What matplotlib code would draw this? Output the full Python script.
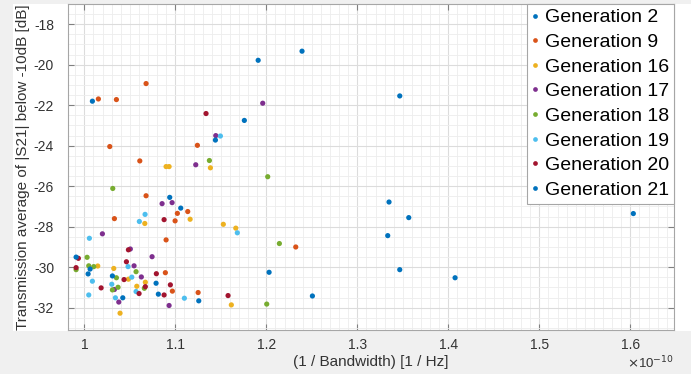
import matplotlib
matplotlib.use('Agg')
import matplotlib.pyplot as plt
from matplotlib.patches import Rectangle
from matplotlib.ticker import MultipleLocator, FuncFormatter
from matplotlib.lines import Line2D

plt.rcParams['font.family'] = ['Liberation Sans', 'DejaVu Sans']
plt.rcParams['axes.unicode_minus'] = False

# --- datos (x en unidades de 1e-10 1/Hz, y en dB) ---
labels = ['Generation 2', 'Generation 9', 'Generation 16', 'Generation 17',
          'Generation 18', 'Generation 19', 'Generation 20', 'Generation 21']
colores = ['#0072BD', '#D95319', '#EDB120', '#7E2F8E',
           '#77AC30', '#4DBEEE', '#A2142F', '#0072BD']

gen2_x = [1.191, 1.2392, 1.3466, 1.1758, 1.3348, 1.3565, 1.3334, 1.3466, 1.4074, 1.2506, 1.6033, 1.203]
gen2_y = [-19.78, -19.33, -21.54, -22.75, -26.78, -27.55, -28.44, -30.12, -30.52, -31.42, -27.35, -30.25]

gen9_x = [1.0678, 1.0154, 1.0352, 1.0279, 1.1242, 1.0609, 1.2323, 1.0678, 1.1022, 1.1136, 1.033, 1.0997,
          1.0898, 1.089, 1.0967, 1.125]
gen9_y = [-20.93, -21.69, -21.72, -24.04, -23.98, -24.75, -29.0, -26.47, -27.34, -27.25, -27.60, -27.71,
          -28.65, -30.27, -31.18, -31.25]

gen16_x = [1.0898, 1.0931, 1.1385, 1.0664, 1.1162, 1.1527, 1.1664, 1.0147, 1.0323, 1.0484, 1.067, 1.0576,
           1.1615, 1.0392]
gen16_y = [-25.03, -25.03, -25.09, -27.84, -27.63, -27.88, -28.07, -29.94, -30.06, -30.59, -30.74, -30.94,
           -31.86, -32.27]

gen17_x = [1.196, 1.1444, 1.1224, 1.0854, 1.0964, 1.0198, 1.0744, 1.0505, 1.0546, 1.0626, 1.033, 1.0378, 1.0931]
gen17_y = [-21.90, -23.50, -24.94, -26.86, -26.81, -28.35, -29.48, -29.10, -29.93, -30.48, -31.10, -31.72, -31.89]

gen18_x = [1.1374, 1.2015, 1.0312, 1.2143, 1.003, 1.0048, 1.0103, 0.9909, 1.0568, 1.0352, 1.0659, 1.0308,
           1.037, 1.2004]
gen18_y = [-24.73, -25.53, -26.11, -28.83, -29.51, -29.93, -29.97, -30.12, -30.22, -30.52, -31.04, -31.12,
           -30.99, -31.82]

gen19_x = [1.1495, 1.0667, 1.0604, 1.1681, 1.0055, 1.048, 1.0088, 1.0521, 1.0301, 1.0568, 1.0048, 1.0341, 1.1099]
gen19_y = [-23.52, -27.39, -27.74, -28.30, -28.57, -29.97, -30.69, -30.49, -30.84, -31.20, -31.37, -31.51, -31.53]

gen20_x = [1.1337, 1.0876, 0.9934, 1.0484, 0.9909, 1.0462, 1.0436, 1.0791, 1.067, 1.0945, 1.0184, 1.0601,
           1.0876, 1.1579]
gen20_y = [-22.41, -27.65, -29.56, -29.14, -30.02, -29.73, -30.61, -30.32, -30.96, -30.87, -31.02, -31.30,
           -31.37, -31.40]

gen21_x = [1.0088, 1.144, 1.0938, 1.1059, 0.9909, 1.0063, 1.0041, 1.0308, 1.0788, 1.0813, 1.0422, 1.1257]
gen21_y = [-21.80, -23.72, -26.55, -27.08, -29.50, -30.09, -30.33, -30.43, -30.79, -31.33, -31.51, -31.66]

series_x = [gen2_x, gen9_x, gen16_x, gen17_x, gen18_x, gen19_x, gen20_x, gen21_x]
series_y = [gen2_y, gen9_y, gen16_y, gen17_y, gen18_y, gen19_y, gen20_y, gen21_y]

xticks = [1.0, 1.1, 1.2, 1.3, 1.4, 1.5, 1.6]
yticks = [-32, -30, -28, -26, -24, -22, -20, -18]

# --- figura estilo MATLAB ---
fig = plt.figure(figsize=(6.91, 3.74), dpi=100)
fig.patch.set_facecolor('#F0F0F0')
fondo = Rectangle((13 / 691, 1 - 331 / 374), 1 - 13 / 691, (331 - 4) / 374,
                  transform=fig.transFigure, facecolor='white', edgecolor='none', zorder=-10)
fig.patches.append(fondo)

ax = fig.add_axes([68 / 691, 1 - 330 / 374, (674 - 68) / 691, (330 - 4) / 374])
ax.set_zorder(1)
ax.set_facecolor('white')

for xs, ys, c, lab in zip(series_x, series_y, colores, labels):
    ax.scatter(xs, ys, s=14, color=c, edgecolors='none', label=lab, zorder=3)

ax.set_xlim(0.982, 1.648)
ax.set_ylim(-33.1, -17.0)
ax.set_xticks(xticks)
ax.set_yticks(yticks)
ax.xaxis.set_major_formatter(FuncFormatter(lambda v, p: f'{v:g}'))
ax.yaxis.set_major_formatter(FuncFormatter(lambda v, p: f'{v:g}'))
ax.xaxis.set_minor_locator(MultipleLocator(0.01))
ax.yaxis.set_minor_locator(MultipleLocator(0.5))

ax.grid(which='major', color='#DCDCDC', linewidth=0.8, zorder=0)
ax.grid(which='minor', color='#EDEDED', linewidth=0.6, zorder=0)
ax.set_axisbelow(True)

ax.tick_params(which='major', direction='in', length=4, width=0.8, colors='#808080',
               labelcolor='#333333', labelsize=10, top=True, right=True)
ax.tick_params(axis='x', which='major', pad=6)
ax.tick_params(axis='y', which='major', pad=10)
ax.tick_params(which='minor', length=0, top=True, right=True)
for s in ax.spines.values():
    s.set_color('#A6A6A6')
    s.set_linewidth(0.8)

ax.set_xlabel('(1 / Bandwidth) [1 / Hz]', fontsize=11, color='#333333', labelpad=2)
ax.set_ylabel('Transmission average of |S21| below -10dB [dB]', fontsize=11, color='#333333', labelpad=3)
ax.text(1.0, -0.075, r'$\times$10$^{-10}$', transform=ax.transAxes, ha='right', va='top',
        fontsize=9.5, color='#333333')

handles = [Line2D([], [], linestyle='none', marker='o', markersize=3.4, color=c,
                  markeredgewidth=0) for c in colores]
leg = ax.legend(handles, labels, loc='upper right', fontsize=14, frameon=True, fancybox=False,
                borderaxespad=0, labelspacing=0.36, handlelength=0.4, handletextpad=0.3,
                borderpad=0.25, framealpha=1)
leg.get_frame().set_edgecolor('#A6A6A6')
leg.get_frame().set_linewidth(0.8)

fig.savefig('out.png', dpi=100, facecolor=fig.get_facecolor())
